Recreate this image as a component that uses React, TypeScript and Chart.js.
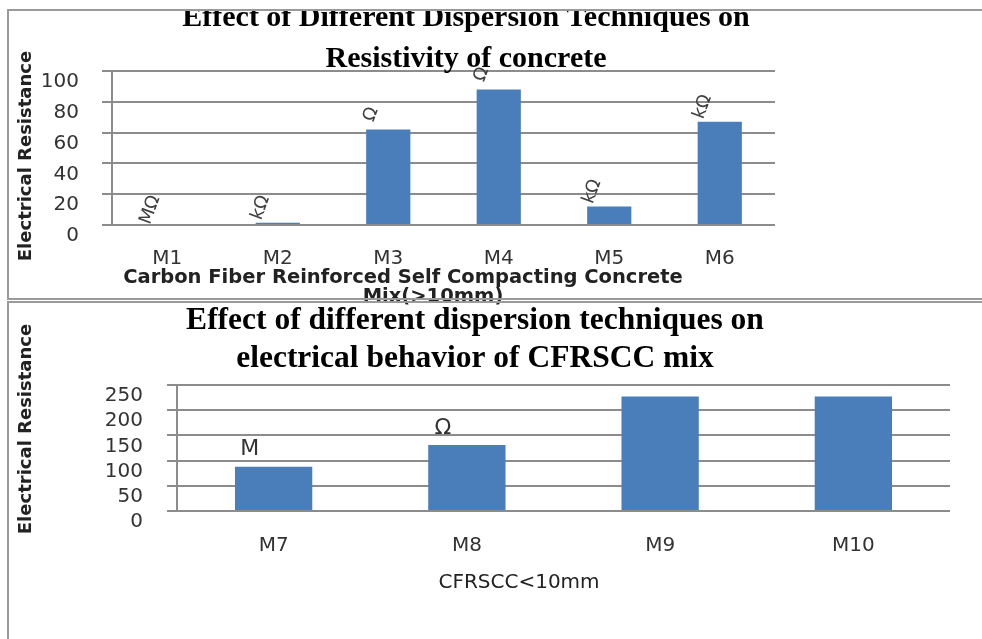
import React, { useEffect, useRef } from 'react';
import { Chart, registerables } from 'chart.js';

Chart.register(...registerables);

// ---- data ----
const topCategories = ['M1', 'M2', 'M3', 'M4', 'M5', 'M6'];
const topValues = [0, 1.5, 62, 88, 12, 67];
const topUnits = ['MΩ', 'kΩ', 'Ω', 'Ω', 'kΩ', 'kΩ'];
const topTitle = ['Effect of Different Dispersion Techniques on', 'Resistivity of concrete'];
const topXTitle = ['Carbon Fiber Reinforced Self Compacting Concrete', 'Mix(>10mm)'];
const topTicks = [0, 20, 40, 60, 80, 100];

const bottomCategories = ['M7', 'M8', 'M9', 'M10'];
const bottomValues = [88, 131, 227, 227];
const bottomUnits = ['M', 'Ω', '', ''];
const bottomTitle = ['Effect of different dispersion techniques on', 'electrical behavior of CFRSCC mix'];
const bottomXTitle = ['CFRSCC<10mm'];
const bottomTicks = [0, 50, 100, 150, 200, 250];

const yTitle = 'Electrical Resistance';

// ---- styles ----
const BAR = '#4A7EBB';
const GRID = '#8c8c8c';
const TEXT = '#333333';
const SANS = '"DejaVu Sans", sans-serif';
const SERIF = '"Liberation Serif", serif';

const unitLabelPlugin = {
  id: 'unitLabels',
  afterDatasetsDraw(chart: any, _args: any, opts: any) {
    const meta = chart.getDatasetMeta(0);
    const ctx = chart.ctx;
    ctx.save();
    ctx.font = opts.font;
    ctx.fillStyle = opts.color;
    ctx.textAlign = 'center';
    ctx.textBaseline = 'middle';
    meta.data.forEach((bar: any, i: number) => {
      const t = opts.labels[i];
      if (!t) return;
      ctx.save();
      ctx.translate(bar.x + opts.dx, bar.y + opts.dy);
      ctx.rotate(opts.rotation);
      ctx.fillText(t, 0, 0);
      ctx.restore();
    });
    ctx.restore();
  },
};

const captionPlugin = {
  id: 'captions',
  afterDraw(chart: any, _args: any, opts: any) {
    const ctx = chart.ctx;
    const items = opts.items || [];
    for (let i = 0; i < items.length; i++) {
      const it = items[i];
      ctx.save();
      ctx.font = it.font;
      ctx.fillStyle = it.color || '#222';
      ctx.textAlign = 'center';
      ctx.textBaseline = 'middle';
      ctx.translate(it.x, it.y);
      if (it.rotation) ctx.rotate(it.rotation);
      ctx.fillText(it.text, 0, 0);
      ctx.restore();
    }
  },
};

function makeConfig(p: any): any {
  return {
    type: 'bar',
    data: {
      labels: p.categories,
      datasets: [
        {
          data: p.values,
          backgroundColor: BAR,
          borderWidth: 0,
          categoryPercentage: 1,
          barPercentage: 0.4,
        },
      ],
    },
    plugins: [unitLabelPlugin, captionPlugin],
    options: {
      responsive: false,
      maintainAspectRatio: false,
      animation: false,
      layout: { padding: { left: 0, right: p.padRight, top: 0, bottom: 0 } },
      plugins: {
        legend: { display: false },
        tooltip: { enabled: false },
        title: {
          display: true,
          text: p.title,
          color: '#000',
          font: { family: SERIF, size: p.titleSize, weight: 'bold', lineHeight: p.titleLineHeight },
          padding: p.titlePadding,
        },
        unitLabels: p.unitLabels,
        captions: { items: p.captions },
      },
      scales: {
        x: {
          type: 'category',
          grid: { display: false, drawTicks: false },
          border: { display: false },
          ticks: {
            color: TEXT,
            font: { family: SANS, size: 20 },
            padding: p.xTickPadding,
            maxRotation: 0,
            autoSkip: false,
          },
          afterFit: (s: any) => {
            s.height = p.xHeight;
          },
        },
        y: {
          type: 'linear',
          position: 'left',
          min: 0,
          max: p.ticks[p.ticks.length - 1],
          ticks: {
            autoSkip: false,
            color: TEXT,
            font: { family: SANS, size: 20 },
            padding: p.yTickPadding,
            labelOffset: 11,
          },
          afterBuildTicks: (s: any) => {
            s.ticks = p.ticks.map((v: number) => ({ value: v }));
          },
          grid: { color: GRID, lineWidth: 2, drawTicks: true, tickLength: 10 },
          border: { display: true, color: GRID, width: 2 },
          afterFit: (s: any) => {
            s.width = p.yWidth;
          },
        },
        y2: {
          type: 'linear',
          position: 'right',
          display: p.rightWidth > 0,
          grid: { display: false },
          border: { display: false },
          ticks: { display: false },
          afterFit: (s: any) => {
            s.width = p.rightWidth;
          },
        },
      },
    },
  };
}

export default function App() {
  const topRef = useRef<HTMLCanvasElement>(null);
  const bottomRef = useRef<HTMLCanvasElement>(null);

  useEffect(() => {
    const top = new Chart(
      topRef.current as HTMLCanvasElement,
      makeConfig({
        categories: topCategories,
        values: topValues,
        ticks: topTicks,
        title: topTitle,
        titleSize: 30,
        titleLineHeight: '41px',
        titlePadding: { top: -1.9, bottom: -9.1 },
        padRight: 0,
        rightWidth: 157,
        yWidth: 112,
        xHeight: 85,
        xTickPadding: 22,
        yTickPadding: 23,
        unitLabels: {
          labels: topUnits,
          font: `18px ${SANS}`,
          color: '#404040',
          dx: -17,
          dy: -15,
          rotation: (-70 * Math.PI) / 180,
        },
        captions: [
          { text: yTitle, x: 26, y: 156, rotation: -Math.PI / 2, font: `bold 18px ${SANS}` },
          { text: topXTitle[0], x: 403, y: 278, font: `bold 19.5px ${SANS}` },
          { text: topXTitle[1], x: 433, y: 297, font: `bold 19.5px ${SANS}` },
        ],
      })
    );
    const bottom = new Chart(
      bottomRef.current as HTMLCanvasElement,
      makeConfig({
        categories: bottomCategories,
        values: bottomValues,
        ticks: bottomTicks,
        title: bottomTitle,
        titleSize: 31.5,
        titleLineHeight: '38px',
        titlePadding: { top: 2.2, bottom: 6.8 },
        padRight: 2,
        rightWidth: 0,
        yWidth: 177,
        xHeight: 128,
        xTickPadding: 23,
        yTickPadding: 24,
        unitLabels: {
          labels: bottomUnits,
          font: `22px ${SANS}`,
          color: '#333333',
          dx: -24,
          dy: -17,
          rotation: 0,
        },
        captions: [
          { text: yTitle, x: 26, y: 129, rotation: -Math.PI / 2, font: `bold 18px ${SANS}` },
          { text: bottomXTitle[0], x: 519, y: 283, font: `20px ${SANS}` },
        ],
      })
    );
    return () => {
      top.destroy();
      bottom.destroy();
    };
  }, []);

  return (
    <div
      style={{
        position: 'absolute',
        left: 0,
        top: 0,
        width: 982,
        height: 639,
        overflow: 'hidden',
        background: '#fff',
      }}
    >
      <canvas
        ref={topRef}
        width={932}
        height={310}
        style={{ position: 'absolute', left: 0, top: 0, width: 932, height: 310 }}
      />
      <canvas
        ref={bottomRef}
        width={952}
        height={339}
        style={{ position: 'absolute', left: 0, top: 300, width: 952, height: 339 }}
      />
      <div
        style={{
          position: 'absolute',
          left: 0,
          top: 0,
          width: 982,
          height: 9,
          background: '#fff',
          pointerEvents: 'none',
        }}
      />
      <div
        style={{
          position: 'absolute',
          left: 7,
          top: 9,
          width: 975,
          height: 291,
          boxSizing: 'border-box',
          borderTop: '2px solid #9a9a9a',
          borderLeft: '2px solid #9a9a9a',
          borderBottom: '2px solid #9a9a9a',
          pointerEvents: 'none',
        }}
      />
      <div
        style={{
          position: 'absolute',
          left: 7,
          top: 301,
          width: 975,
          height: 345,
          boxSizing: 'border-box',
          borderTop: '2px solid #9a9a9a',
          borderLeft: '2px solid #9a9a9a',
          pointerEvents: 'none',
        }}
      />
    </div>
  );
}
